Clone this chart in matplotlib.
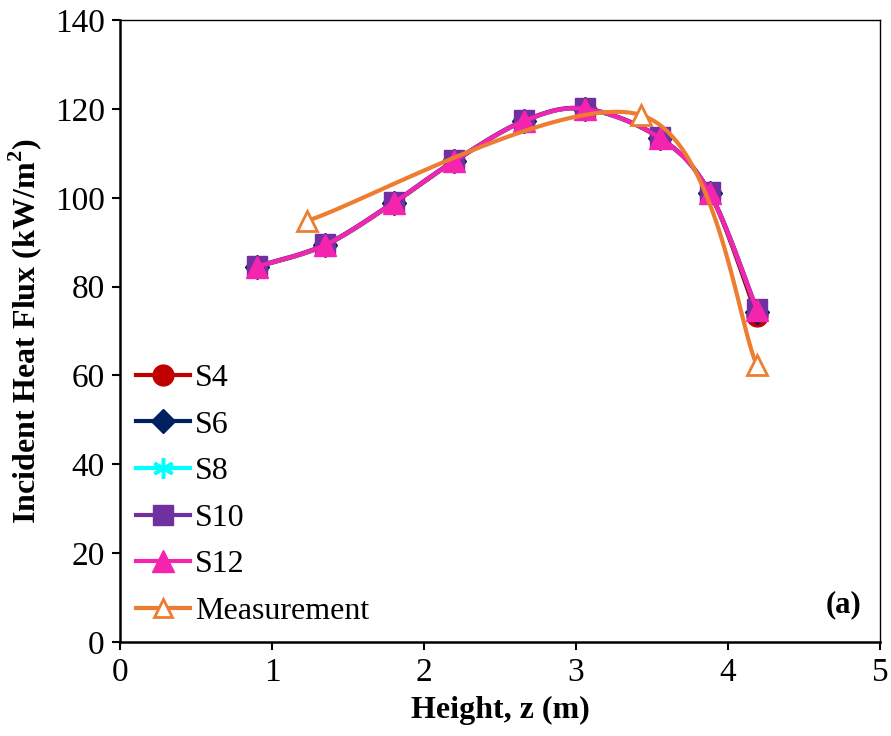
import numpy as np
import matplotlib
matplotlib.use('Agg')
import matplotlib.pyplot as plt

plt.rcParams['font.family'] = ['Liberation Serif', 'DejaVu Serif']
plt.rcParams['mathtext.fontset'] = 'custom'
plt.rcParams['mathtext.rm'] = 'Liberation Serif'
plt.rcParams['mathtext.bf'] = 'Liberation Serif:bold'

# data
z_sim = [0.90, 1.35, 1.80, 2.20, 2.66, 3.06, 3.55, 3.88, 4.19]
s4 = [84.4, 89.3, 98.8, 108.2, 117.3, 120.0, 113.4, 101.0, 73.4]
s6 = [84.5, 89.4, 98.9, 108.3, 117.3, 120.0, 113.5, 101.1, 74.3]
s8 = [84.5, 89.4, 98.9, 108.3, 117.3, 120.0, 113.5, 101.1, 74.6]
s10 = [84.6, 89.5, 99.0, 108.4, 117.4, 120.1, 113.6, 101.2, 74.9]
s12 = [84.5, 89.4, 98.9, 108.3, 117.3, 120.0, 113.5, 101.1, 74.7]
z_meas = [1.23, 3.43, 4.19]
meas = [94.8, 118.6, 62.3]

labels = ['S4', 'S6', 'S8', 'S10', 'S12']
colors = ['#C00000', '#002060', '#00FFFF', '#7030A0', '#F524AE']
markers = ['o', 'D', (6, 2, 0), 's', '^']
msizes = [15, 12, 15, 15, 16]
mews = [1, 1, 2.5, 1, 1]


def excel_smooth(x, y, n=40):
    # excel style smoothed line: cubic bezier, catmull-rom controls
    x = np.asarray(x, float)
    y = np.asarray(y, float)
    p = np.column_stack([x, y])
    out = []
    for i in range(len(p) - 1):
        p0 = p[i - 1] if i > 0 else p[i]
        p1 = p[i]
        p2 = p[i + 1]
        p3 = p[i + 2] if i + 2 < len(p) else p[i + 1]
        c1 = p1 + (p2 - p0) / 6
        c2 = p2 - (p3 - p1) / 6
        t = np.linspace(0, 1, n)[:, None]
        seg = ((1 - t) ** 3) * p1 + 3 * ((1 - t) ** 2) * t * c1 + 3 * (1 - t) * t ** 2 * c2 + t ** 3 * p2
        out.append(seg if i == 0 else seg[1:])
    out = np.vstack(out)
    return out[:, 0], out[:, 1]


fig = plt.figure(figsize=(8.91, 7.36), dpi=100)
ax = fig.add_axes([0.1347, 0.1277, 0.853, 0.845])

series = [s4, s6, s8, s10, s12]
for lab, col, mk, ms, mw, ys in zip(labels, colors, markers, msizes, mews, series):
    xs, yy = excel_smooth(z_sim, ys)
    ax.plot(xs, yy, color=col, lw=3, solid_capstyle='round')
    ax.plot(z_sim, ys, ls='none', marker=mk, ms=ms, color=col, mec=col, mew=mw)
    ax.plot([], [], color=col, lw=3, marker=mk, ms=ms, mew=mw, label=lab)

xs, yy = excel_smooth(z_meas, meas)
ax.plot(xs, yy, color='#ED7D31', lw=3, solid_capstyle='round')
ax.plot(z_meas, meas, ls='none', marker='^', ms=15, mfc='white', mec='#ED7D31', mew=2)
ax.plot([], [], color='#ED7D31', lw=3, marker='^', ms=13, mfc='white',
        mec='#ED7D31', mew=2, label='Measurement')

ax.set_xlim(0, 5)
ax.set_ylim(0, 140)
ax.set_xticks(range(0, 6))
ax.set_yticks(range(0, 141, 20))
ax.tick_params(direction='out', length=6, width=1.5, labelsize=24, pad=5)
for s in ['left', 'bottom']:
    ax.spines[s].set_linewidth(1.8)
for s in ['top', 'right']:
    ax.spines[s].set_linewidth(1.0)

ax.set_xlabel('Height, z (m)', fontsize=23, fontweight='bold', labelpad=6)
ax.set_ylabel(r'Incident Heat Flux (kW/m$^\mathbf{2}$)', fontsize=23,
              fontweight='bold', labelpad=8)

ax.legend(loc='lower left', frameon=False, fontsize=23, handlelength=1.7,
          handletextpad=0.15, labelspacing=0.54, borderaxespad=0.1,
          bbox_to_anchor=(0.0, 0.0))

ax.text(0.975, 0.06, '(a)', transform=ax.transAxes, ha='right', va='center',
        fontsize=22, fontweight='bold')

fig.savefig('out.png', dpi=100)
